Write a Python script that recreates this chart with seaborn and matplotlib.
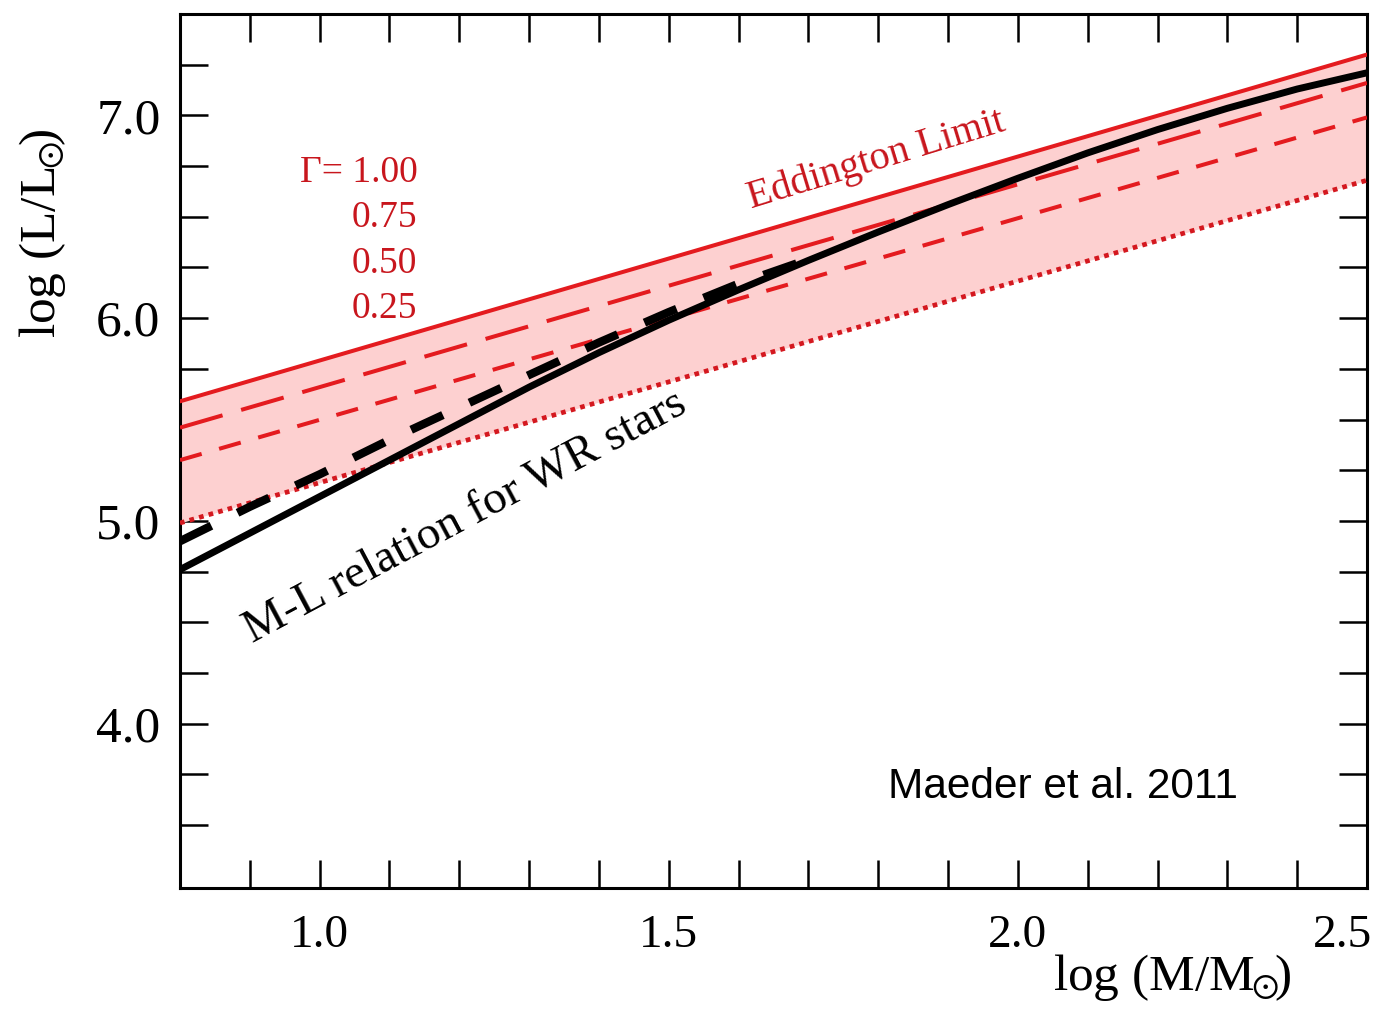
import numpy as np
import pandas as pd
import seaborn as sns
import matplotlib.pyplot as plt
import matplotlib.transforms as mtransforms
from matplotlib.ticker import FixedLocator

# Eddington-limit lines (log L at the two ends of the mass range)
edd_logm = [0.8, 2.5]
edd_g100 = [5.59, 7.30]
edd_g075 = [5.46, 7.16]
edd_g050 = [5.30, 6.99]
edd_g025 = [4.99, 6.68]
gamma_labels = ['\u0393= 1.00', '0.75', '0.50', '0.25']

# M-L relation for WR stars (solid) and the dashed variant
ml_logm = [0.80, 0.90, 1.00, 1.10, 1.20, 1.30, 1.40, 1.50, 1.60,
           1.70, 1.80, 1.90, 2.00, 2.10, 2.20, 2.30, 2.40, 2.50]
ml_logl = [4.76, 4.94, 5.12, 5.30, 5.48, 5.66, 5.83, 5.99, 6.14,
           6.285, 6.425, 6.56, 6.69, 6.815, 6.93, 7.035, 7.13, 7.21]
ml_dash_logm = [0.80, 0.90, 1.00, 1.10, 1.20, 1.30, 1.40, 1.50, 1.60, 1.70]
ml_dash_logl = [4.90, 5.07, 5.23, 5.40, 5.56, 5.72, 5.88, 6.03, 6.17, 6.29]

x_major = [1.0, 1.5, 2.0, 2.5]
x_minor = [0.9, 1.1, 1.2, 1.3, 1.4, 1.6, 1.7, 1.8, 1.9, 2.1, 2.2, 2.3, 2.4]
y_major = [4.0, 5.0, 6.0, 7.0]
y_minor = [3.5, 3.75, 4.25, 4.5, 4.75, 5.25, 5.5, 5.75, 6.25, 6.5, 6.75, 7.25]

sns.set_theme(style='ticks')
plt.rcParams['font.family'] = ['Liberation Serif', 'DejaVu Serif']
plt.rcParams['mathtext.fontset'] = 'stix'
for k in ['text.color', 'axes.labelcolor', 'xtick.color', 'ytick.color']:
    plt.rcParams[k] = 'black'

red = '#e41b1f'
fig = plt.figure(figsize=(13.8, 10.09), dpi=100)
ax = fig.add_axes([180 / 1380, 1 - 888 / 1009, 1187 / 1380, 874 / 1009])

# shaded band between Gamma = 1 and Gamma = 0.25
ax.fill_between(edd_logm, edd_g025, edd_g100, color='#fdd0d0', lw=0, zorder=1)

sns.lineplot(x=edd_logm, y=edd_g100, color=red, lw=2.9, ax=ax, zorder=3)
sns.lineplot(x=edd_logm, y=edd_g075, color=red, lw=2.9, ax=ax, zorder=3,
             linestyle=(0, (11, 4.8)))
sns.lineplot(x=edd_logm, y=edd_g050, color=red, lw=2.9, ax=ax, zorder=3,
             linestyle=(0, (5.6, 4.5)))
sns.lineplot(x=edd_logm, y=edd_g025, color='#d4181f', lw=3.4, ax=ax, zorder=3,
             linestyle=(0, (1.0, 1.1)))

sns.lineplot(x=ml_dash_logm, y=ml_dash_logl, color='black', lw=6.0, ax=ax,
             zorder=4, linestyle=(0, (4.2, 3.5)))
sns.lineplot(x=ml_logm, y=ml_logl, color='black', lw=5.0, ax=ax, zorder=5)

ax.set_xlim(0.8, 2.5)
ax.set_ylim(3.19, 7.5)

ax.xaxis.set_major_locator(FixedLocator(x_major))
ax.xaxis.set_minor_locator(FixedLocator(x_minor))
ax.yaxis.set_major_locator(FixedLocator(y_major))
ax.yaxis.set_minor_locator(FixedLocator(y_minor))
ax.set_xticklabels(['1.0', '1.5', '2.0', '2.5'])
ax.set_yticklabels(['4.0', '5.0', '6.0', '7.0'])
ax.tick_params(which='both', direction='in', top=True, right=True,
               length=20, width=1.8, color='black')
ax.tick_params(axis='x', labelsize=34, pad=19, labelcolor='black')
ax.tick_params(axis='y', labelsize=37, pad=14, labelcolor='black')
for s in ax.spines.values():
    s.set_linewidth(2.2)
    s.set_color('black')
ax.set_xlabel('')
ax.set_ylabel('')

# keep the last x tick label inside the figure
last = ax.get_xticklabels()[-1]
last.set_horizontalalignment('right')
last.set_transform(last.get_transform() +
                   mtransforms.ScaledTranslation(5 / 100, 0, fig.dpi_scale_trans))

# annotations
ax.text(1.797, 6.78, 'Eddington Limit', color='#c8161d', fontsize=29,
        rotation=17, ha='center', va='center', zorder=6)
ax.text(1.209, 5.015, 'M-L relation for WR stars', color='black', fontsize=34,
        rotation=28, ha='center', va='center', zorder=6)
gamma_y = [6.670, 6.448, 6.222, 6.000]
for lab, yy in zip(gamma_labels, gamma_y):
    ax.text(1.140, yy, lab, color='#c8161d', fontsize=27, ha='right',
            va='baseline', zorder=6)
ax.text(1.814, 3.69, 'Maeder et al. 2011', family='Liberation Sans',
        fontsize=30.5, ha='left', va='center', color='black', zorder=6)

fig.text(1053 / 1380, 1 - 990 / 1009, r'log (M/M$_{\!\!\odot}\!\!$)',
         fontsize=37, ha='left', va='baseline')
fig.text(55 / 1380, 1 - 338 / 1009, r'log (L/L$_{\!\!\odot}\!\!$)',
         fontsize=37, rotation=90, rotation_mode='anchor', ha='left',
         va='baseline')

fig.savefig('out.png', dpi=100)
